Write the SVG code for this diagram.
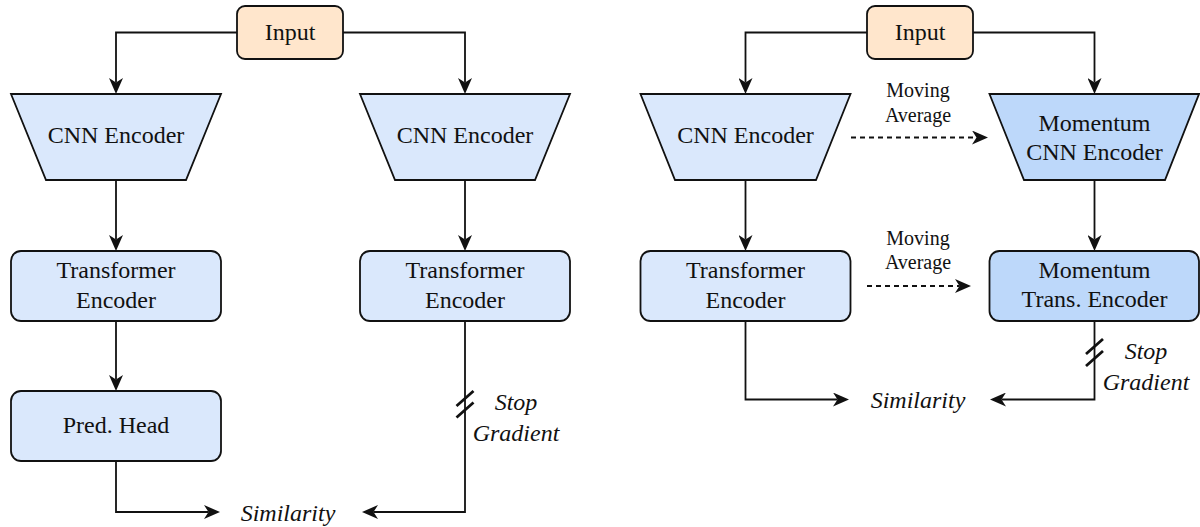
<svg xmlns="http://www.w3.org/2000/svg" width="1200" height="527" viewBox="0 0 1200 527">
<style>
.box{fill:#dae8fc;stroke:#111;stroke-width:1.8}
.mom{fill:#bdd8fa;stroke:#111;stroke-width:1.8}
.inp{fill:#ffe6cc;stroke:#111;stroke-width:1.8}
text{font-family:"Liberation Serif","Times New Roman",serif;font-size:24px;fill:#111;text-anchor:middle}
.i{font-style:italic}
.s{font-size:20px}
.c{fill:none;stroke:#111;stroke-width:1.8}
.d{stroke-dasharray:5 4}
.sl{stroke:#111;stroke-width:2.8;fill:none}
</style>
<defs>
<marker id="ah" markerUnits="userSpaceOnUse" viewBox="0 0 16 14" markerWidth="16" markerHeight="14" refX="4.5" refY="7" orient="auto">
<path d="M0,0 L16,7 L0,14 L4.5,7 Z" fill="#111"/>
</marker>
</defs>

<g id="connectors">
<path class="c" d="M237,32.5 H116 V82.5" marker-end="url(#ah)"/>
<path class="c" d="M343,32.5 H465 V82.5" marker-end="url(#ah)"/>
<path class="c" d="M116,180 V239.5" marker-end="url(#ah)"/>
<path class="c" d="M465,180 V239.5" marker-end="url(#ah)"/>
<path class="c" d="M116,321 V379.5" marker-end="url(#ah)"/>
<path class="c" d="M116,461 V512 H208.5" marker-end="url(#ah)"/>
<path class="c" d="M465,321 V512 H373.5" marker-end="url(#ah)"/>
<path class="sl" d="M456.5,406 L473.5,391 M456.5,417.5 L473.5,402.5"/>

<path class="c" d="M867,32.5 H745.5 V82.5" marker-end="url(#ah)"/>
<path class="c" d="M973,32.5 H1094.5 V82.5" marker-end="url(#ah)"/>
<path class="c" d="M745.5,180 V239.5" marker-end="url(#ah)"/>
<path class="c" d="M1094.5,180 V239.5" marker-end="url(#ah)"/>
<path class="c" d="M745.5,321 V399.5 H837.5" marker-end="url(#ah)"/>
<path class="c" d="M1094.5,321 V399.5 H1001.5" marker-end="url(#ah)"/>
<path class="sl" d="M1086,354 L1103,339 M1086,366 L1103,351"/>
<path class="c d" d="M851,137.5 H976.5" marker-end="url(#ah)"/>
<path class="c d" d="M867,286 H959.5" marker-end="url(#ah)"/>
</g>

<g id="input-left">
<rect class="inp" x="237" y="6" width="106" height="53" rx="8"/>
<text x="290" y="40">Input</text>
</g>
<g id="cnn-left-a">
<polygon class="box" points="11,94 221,94 186,180 46,180"/>
<text x="116" y="143">CNN Encoder</text>
</g>
<g id="cnn-left-b">
<polygon class="box" points="360,94 570,94 535,180 395,180"/>
<text x="465" y="143">CNN Encoder</text>
</g>
<g id="trans-left-a">
<rect class="box" x="11" y="251" width="210" height="70" rx="10"/>
<text x="116" y="278">Transformer</text>
<text x="116" y="308">Encoder</text>
</g>
<g id="trans-left-b">
<rect class="box" x="360" y="251" width="210" height="70" rx="10"/>
<text x="465" y="278">Transformer</text>
<text x="465" y="308">Encoder</text>
</g>
<g id="pred-head">
<rect class="box" x="11" y="391" width="210" height="70" rx="10"/>
<text x="116" y="433">Pred. Head</text>
</g>
<g id="sim-left">
<text class="i" x="288" y="521">Similarity</text>
</g>
<g id="stop-left">
<text class="i" x="516" y="410">Stop</text>
<text class="i" x="516" y="441">Gradient</text>
</g>

<g id="input-right">
<rect class="inp" x="867" y="6" width="106" height="53" rx="8"/>
<text x="920" y="40">Input</text>
</g>
<g id="cnn-right">
<polygon class="box" points="640.5,94 850.5,94 816,180 675,180"/>
<text x="745.5" y="143">CNN Encoder</text>
</g>
<g id="mom-cnn">
<polygon class="mom" points="989.5,94 1199,94 1165,180 1024,180"/>
<text x="1094.5" y="131">Momentum</text>
<text x="1094.5" y="160">CNN Encoder</text>
</g>
<g id="trans-right">
<rect class="box" x="640.5" y="251" width="210" height="70" rx="10"/>
<text x="745.5" y="278">Transformer</text>
<text x="745.5" y="308">Encoder</text>
</g>
<g id="mom-trans">
<rect class="mom" x="989.5" y="251" width="209.5" height="70" rx="10"/>
<text x="1094.5" y="278">Momentum</text>
<text x="1094.5" y="307">Trans. Encoder</text>
</g>
<g id="ma-1">
<text class="s" x="918" y="97">Moving</text>
<text class="s" x="918" y="121.5">Average</text>
</g>
<g id="ma-2">
<text class="s" x="918" y="244.5">Moving</text>
<text class="s" x="918" y="269">Average</text>
</g>
<g id="sim-right">
<text class="i" x="918" y="408">Similarity</text>
</g>
<g id="stop-right">
<text class="i" x="1146" y="359">Stop</text>
<text class="i" x="1146" y="390">Gradient</text>
</g>
</svg>
